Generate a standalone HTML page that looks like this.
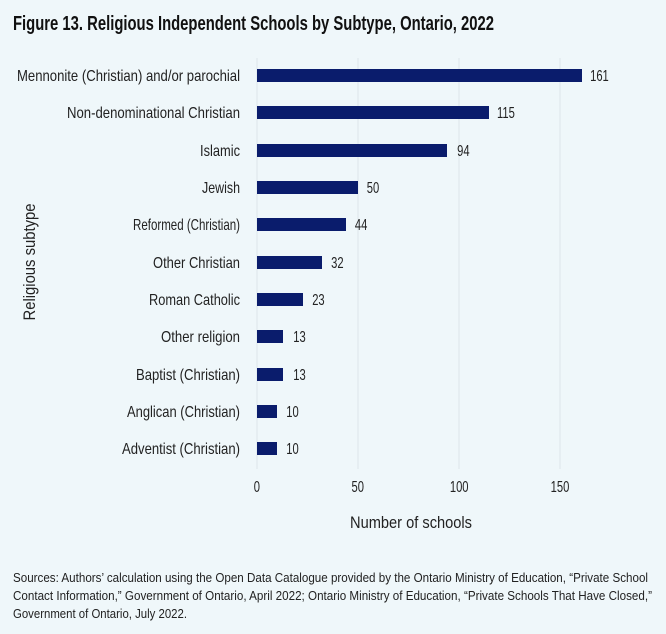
<!DOCTYPE html>
<html><head><style>
html,body{margin:0;padding:0;background:#eff7fa;}
svg{display:block;font-family:"Liberation Sans",sans-serif;}
</style></head><body>
<svg width="666" height="634" viewBox="0 0 666 634">
<rect width="666" height="634" fill="#eff7fa"/>
<text x="13" y="30" font-size="20" font-weight="bold" fill="#111" textLength="481" lengthAdjust="spacingAndGlyphs">Figure 13. Religious Independent Schools by Subtype, Ontario, 2022</text>
<g stroke="#dde6ea" stroke-width="1">
<line x1="257" y1="58" x2="257" y2="469"/>
<line x1="358" y1="58" x2="358" y2="469"/>
<line x1="459" y1="58" x2="459" y2="469"/>
<line x1="560" y1="58" x2="560" y2="469"/>
</g>
<g fill="#0a1c6c">
<rect x="257" y="69" width="325" height="13"/>
<rect x="257" y="106" width="232" height="13"/>
<rect x="257" y="144" width="190" height="13"/>
<rect x="257" y="181" width="101" height="13"/>
<rect x="257" y="218" width="89" height="13"/>
<rect x="257" y="256" width="65" height="13"/>
<rect x="257" y="293" width="46" height="13"/>
<rect x="257" y="330" width="26" height="13"/>
<rect x="257" y="368" width="26" height="13"/>
<rect x="257" y="405" width="20" height="13"/>
<rect x="257" y="442" width="20" height="13"/>
</g>
<g font-size="16" fill="#222" text-anchor="end">
<text x="240" y="81" textLength="223" lengthAdjust="spacingAndGlyphs">Mennonite (Christian) and/or parochial</text>
<text x="240" y="118" textLength="173" lengthAdjust="spacingAndGlyphs">Non-denominational Christian</text>
<text x="240" y="156" textLength="40" lengthAdjust="spacingAndGlyphs">Islamic</text>
<text x="240" y="193" textLength="38" lengthAdjust="spacingAndGlyphs">Jewish</text>
<text x="240" y="230" textLength="107" lengthAdjust="spacingAndGlyphs">Reformed (Christian)</text>
<text x="240" y="268" textLength="87" lengthAdjust="spacingAndGlyphs">Other Christian</text>
<text x="240" y="305" textLength="91" lengthAdjust="spacingAndGlyphs">Roman Catholic</text>
<text x="240" y="342" textLength="79" lengthAdjust="spacingAndGlyphs">Other religion</text>
<text x="240" y="380" textLength="104" lengthAdjust="spacingAndGlyphs">Baptist (Christian)</text>
<text x="240" y="417" textLength="113" lengthAdjust="spacingAndGlyphs">Anglican (Christian)</text>
<text x="240" y="454" textLength="118" lengthAdjust="spacingAndGlyphs">Adventist (Christian)</text>
</g>
<g font-size="16" fill="#222" transform="scale(0.7,1)">
<text x="843" y="81">161</text>
<text x="710" y="118">115</text>
<text x="653" y="156">94</text>
<text x="524" y="193">50</text>
<text x="507" y="230">44</text>
<text x="473" y="268">32</text>
<text x="446" y="305">23</text>
<text x="419" y="342">13</text>
<text x="419" y="380">13</text>
<text x="409" y="417">10</text>
<text x="409" y="454">10</text>
</g>
<g font-size="16" fill="#222" text-anchor="middle" transform="scale(0.7,1)">
<text x="367" y="492">0</text>
<text x="511" y="492">50</text>
<text x="656" y="492">100</text>
<text x="800" y="492">150</text>
</g>
<text x="411" y="528" font-size="17" fill="#222" text-anchor="middle" textLength="122" lengthAdjust="spacingAndGlyphs">Number of schools</text>
<text transform="translate(35,262) rotate(-90)" font-size="17" fill="#222" text-anchor="middle" textLength="117" lengthAdjust="spacingAndGlyphs">Religious subtype</text>
<g font-size="13" fill="#222">
<text x="13" y="582" textLength="635" lengthAdjust="spacingAndGlyphs">Sources: Authors’ calculation using the Open Data Catalogue provided by the Ontario Ministry of Education, “Private School</text>
<text x="13" y="600" textLength="639" lengthAdjust="spacingAndGlyphs">Contact Information,” Government of Ontario, April 2022; Ontario Ministry of Education, “Private Schools That Have Closed,”</text>
<text x="13" y="618" textLength="174" lengthAdjust="spacingAndGlyphs">Government of Ontario, July 2022.</text>
</g>
</svg>
</body></html>
